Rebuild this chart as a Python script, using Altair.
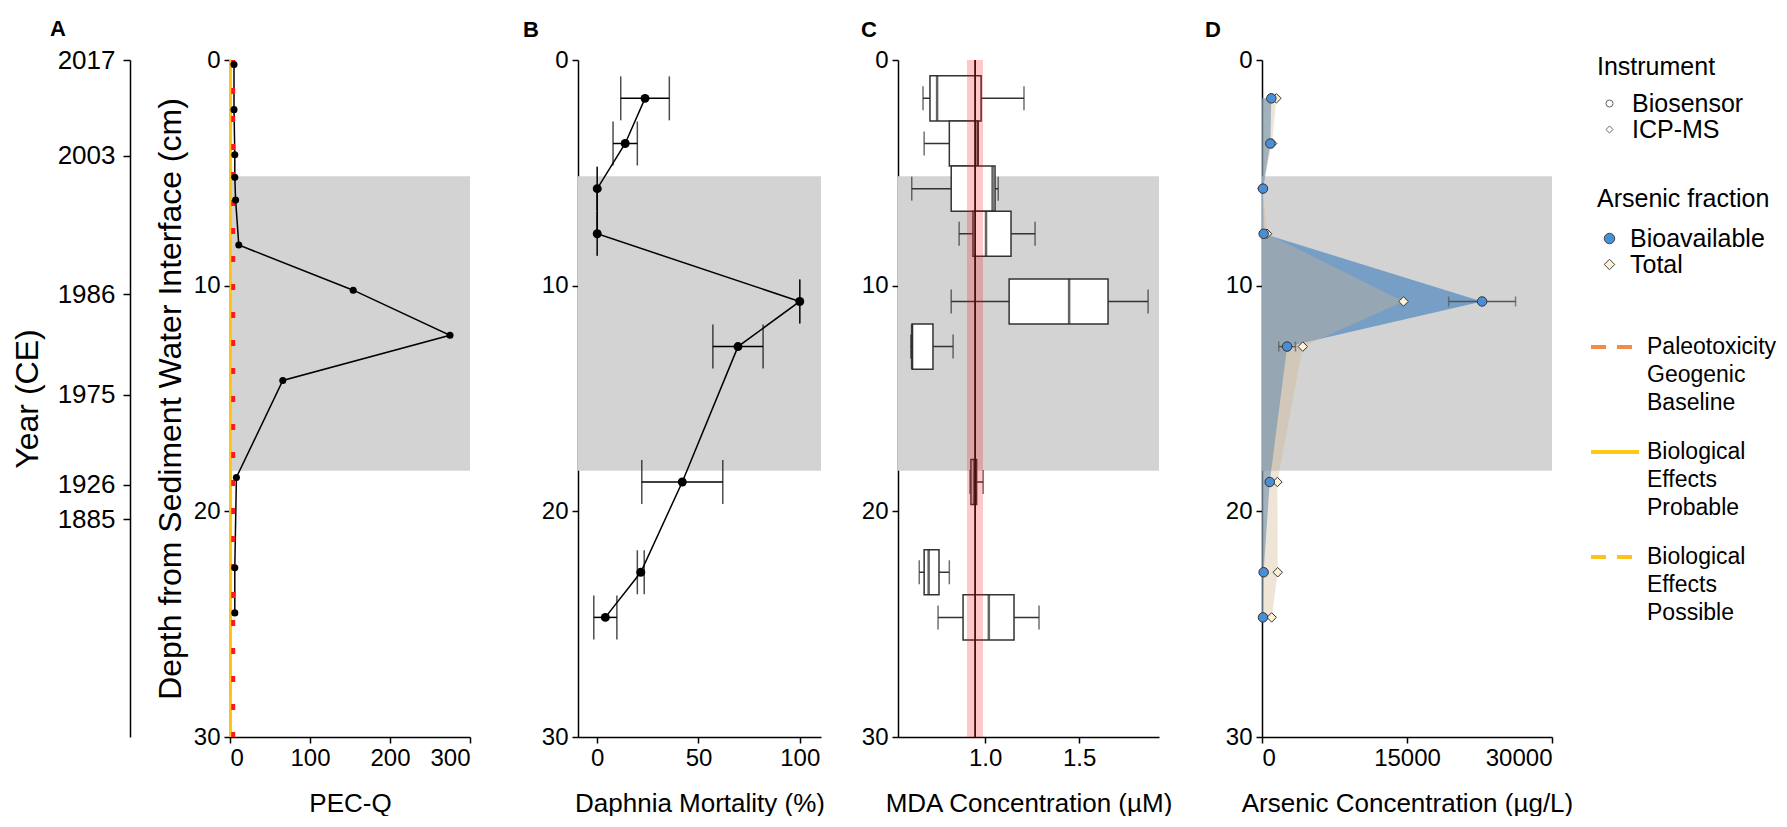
import altair as alt
import pandas as pd

FONT = "Liberation Sans"
GRAY = "#D3D3D3"

# ---------------- data ----------------
band_top = [5.15]
band_bottom = [18.2]

year_depths = [0, 4.25, 10.37, 14.84, 18.83, 20.34]
year_labels = ["2017", "2003", "1986", "1975", "1926", "1885"]

a_depth = [0.2, 2.2, 4.2, 5.2, 6.2, 8.2, 10.2, 12.2, 14.2, 18.5, 22.5, 24.5]
a_pecq = [5, 5, 6, 6, 7, 11, 154, 275, 66, 8, 6, 6]

guide_names = ["Paleotoxicity Geogenic Baseline", "Biological Effects Probable", "Biological Effects Possible"]
guide_values = [4, 1, 0.5]

b_depth = [1.7, 3.7, 5.7, 7.7, 10.7, 12.7, 18.7, 22.7, 24.7]
b_mortality = [23.6, 13.8, 0, 0, 100, 69.5, 42, 21.5, 4]
b_error = [12, 6, 0, 0, 0, 12.4, 20, 1.7, 5.7]

c_depth = [1.7, 3.7, 5.7, 7.7, 10.7, 12.7, 18.7, 22.7, 24.7]
c_low = [0.67, 0.676, 0.61, 0.862, 0.82, 0.605, 0.92, 0.65, 0.75]
c_q1 = [0.707, 0.81, 0.82, 0.936, 1.128, 0.612, 0.925, 0.676, 0.883]
c_median = [0.745, 0.960, 1.04, 1.005, 1.447, 0.612, 0.94, 0.70, 1.02]
c_q3 = [0.979, 0.963, 1.053, 1.138, 1.654, 0.723, 0.955, 0.755, 1.154]
c_high = [1.207, 0.963, 1.07, 1.266, 1.867, 0.83, 0.99, 0.81, 1.287]

mda_ref_low = [0.904]
mda_ref_mid = [0.947]
mda_ref_high = [0.989]

d_depth = [1.7, 3.7, 5.7, 7.7, 10.7, 12.7, 18.7, 22.7, 24.7]
d_bioavailable = [965, 865, 100, 170, 22770, 2600, 800, 170, 100]
d_bio_error = [0, 0, 0, 0, 3460, 865, 0, 0, 0]
d_total = [1490, 1040, 50, 520, 14640, 4220, 1590, 1630, 1000]

# ---------------- tables ----------------
band_df = pd.DataFrame({"top": band_top, "bottom": band_bottom})
a_df = pd.DataFrame({"depth": a_depth, "pecq": a_pecq})
guide_df = pd.DataFrame({"guide": guide_names, "value": guide_values})
b_df = pd.DataFrame({"depth": b_depth, "m": b_mortality, "err": b_error})
b_df["lo"] = b_df["m"] - b_df["err"]
b_df["hi"] = b_df["m"] + b_df["err"]
c_df = pd.DataFrame({"depth": c_depth, "lo": c_low, "q1": c_q1, "med": c_median,
                     "q3": c_q3, "hi": c_high})
mda_df = pd.DataFrame({"lo": mda_ref_low, "mid": mda_ref_mid, "hi": mda_ref_high})
d_df = pd.DataFrame({"depth": d_depth, "bio": d_bioavailable, "err": d_bio_error, "total": d_total})
d_df["lo"] = d_df["bio"] - d_df["err"]
d_df["hi"] = d_df["bio"] + d_df["err"]
d_long = pd.concat([
    pd.DataFrame({"depth": d_depth, "value": d_bioavailable,
                  "fraction": "Bioavailable", "instrument": "Biosensor"}),
    pd.DataFrame({"depth": d_depth, "value": d_total,
                  "fraction": "Total", "instrument": "ICP-MS"}),
], ignore_index=True)

H = 677
ys = alt.Scale(domain=[0, 30], reverse=True, nice=False, zero=False)


def depth_axis(**kw):
    return alt.Axis(values=[0, 10, 20, 30], **kw)


def panel_title(letter, dx):
    return alt.TitleParams(letter, anchor="start", frame="group", dx=dx, fontSize=22,
                           fontWeight="bold", font=FONT, color="black", offset=6)


def band(axis):
    return alt.Chart(band_df).mark_rect(color=GRAY).encode(
        y=alt.Y("top:Q", scale=ys, axis=axis), y2="bottom:Q")


# ---------------- legends ----------------
line_legend = alt.Legend(
    title=None, orient="none", legendX=1359, legendY=261, direction="vertical",
    symbolType="stroke", symbolSize=2304, symbolStrokeWidth=4, labelFontSize=23,
    labelExpr="split(datum.value, ' ')", rowPadding=11, labelOffset=6)
inst_legend = alt.Legend(
    title="Instrument", orient="none", legendX=1367, legendY=-5, direction="vertical",
    titleFontSize=25, labelFontSize=25, symbolSize=50, titlePadding=11, rowPadding=-4,
    labelOffset=10, symbolFillColor="white", symbolStrokeColor="#666", symbolStrokeWidth=1)
frac_legend = alt.Legend(
    title="Arsenic fraction", orient="none", legendX=1367, legendY=127, direction="vertical",
    titleFontSize=25, labelFontSize=25, symbolSize=110, titlePadding=14, rowPadding=-6,
    labelOffset=8, symbolStrokeColor="#444", symbolStrokeWidth=1,
    symbolType={"expr": "datum.value === 'Total' ? 'diamond' : 'circle'"})

# ---------------- panel A ----------------
xA = alt.Scale(domain=[0, 300], nice=False, zero=False)
axA_x = alt.Axis(values=[0, 100, 200, 300], title="PEC-Q")
axA_y = depth_axis(title="Depth from Sediment Water Interface (cm)", titleFontSize=32, titlePadding=6)
year_expr = " : ".join(f"datum.value == {d} ? '{y}'" for d, y in zip(year_depths, year_labels)) + " : ''"
year_axis = alt.Axis(orient="left", offset=100, values=year_depths, labelExpr=year_expr,
                     title="Year (CE)", titleFontSize=32, labelFontSize=26, tickSize=7,
                     labelPadding=8, titlePadding=13)

# guideline rules (legend keys); the geogenic baseline is drawn in panel A as red short dashes
rulesA = alt.Chart(guide_df).mark_rule().encode(
    x=alt.X("value:Q", scale=xA, axis=axA_x),
    color=alt.Color("guide:N", scale=alt.Scale(domain=guide_names, range=["#F28A4A", "#FFC815", "#FFC21A"]),
                    legend=line_legend),
    strokeDash=alt.StrokeDash("guide:N", scale=alt.Scale(domain=guide_names, range=[[15, 11], [1, 0], [15, 11]]),
                              legend=line_legend),
    strokeWidth=alt.value(2.5),
    strokeOpacity=alt.condition(f"datum.guide == '{guide_names[0]}'", alt.value(0), alt.value(1)),
)
baselineA = alt.Chart(guide_df).transform_filter(f"datum.guide == '{guide_names[0]}'").mark_rule(
    color="#FF1A1A", strokeWidth=4, strokeDash=[6, 22]).encode(x=alt.X("value:Q", scale=xA, axis=axA_x))
lineA = alt.Chart(a_df).mark_line(color="black", strokeWidth=1.5).encode(
    x=alt.X("pecq:Q", scale=xA, axis=axA_x),
    y=alt.Y("depth:Q", scale=ys, axis=axA_y),
    order="depth:Q")
pointsA = alt.Chart(a_df).mark_circle(color="black", size=50, opacity=1).encode(
    x=alt.X("pecq:Q", scale=xA, axis=axA_x),
    y=alt.Y("depth:Q", scale=ys, axis=year_axis))
panelA = alt.layer(alt.layer(band(axA_y), lineA, rulesA, baselineA), pointsA).resolve_scale(
    y="independent").properties(width=240, height=H, title=panel_title("A", -180))

# ---------------- panel B ----------------
xB = alt.Scale(domain=[-9.5, 110.5], nice=False, zero=False)
axB_x = alt.Axis(values=[0, 50, 100], title="Daphnia Mortality (%)")
axB_y = depth_axis(title=None, minExtent=107, maxExtent=107)
baseB = alt.Chart(b_df)
errB = baseB.mark_rule(color="black", strokeWidth=1.5).encode(
    x=alt.X("lo:Q", scale=xB, axis=axB_x), x2="hi:Q", y=alt.Y("depth:Q", scale=ys, axis=axB_y))
capB_lo = baseB.mark_tick(orient="vertical", size=44, thickness=1.5, color="black").encode(
    x=alt.X("lo:Q", scale=xB, axis=axB_x), y=alt.Y("depth:Q", scale=ys, axis=axB_y))
capB_hi = baseB.mark_tick(orient="vertical", size=44, thickness=1.5, color="black").encode(
    x=alt.X("hi:Q", scale=xB, axis=axB_x), y=alt.Y("depth:Q", scale=ys, axis=axB_y))
lineB = baseB.mark_line(color="black", strokeWidth=1.5).encode(
    x=alt.X("m:Q", scale=xB, axis=axB_x), y=alt.Y("depth:Q", scale=ys, axis=axB_y), order="depth:Q")
pointsB = baseB.mark_circle(color="black", size=80, opacity=1).encode(
    x=alt.X("m:Q", scale=xB, axis=axB_x), y=alt.Y("depth:Q", scale=ys, axis=axB_y))
panelB = alt.layer(band(axB_y), errB, capB_lo, capB_hi, lineB, pointsB).properties(
    width=243, height=H, title=panel_title("B", -55))

# ---------------- panel C ----------------
xC = alt.Scale(domain=[0.537, 1.925], nice=False, zero=False)
axC_x = alt.Axis(values=[1.0, 1.5], format=".1f", title="MDA Concentration (µM)")
axC_y = depth_axis(title=None, minExtent=73, maxExtent=73)
baseC = alt.Chart(c_df)
whiskC = baseC.mark_rule(color="#333", strokeWidth=1.5).encode(
    x=alt.X("lo:Q", scale=xC, axis=axC_x), x2="hi:Q", y=alt.Y("depth:Q", scale=ys, axis=axC_y))
capC_lo = baseC.mark_tick(orient="vertical", size=24, thickness=1.5, color="#333").encode(
    x=alt.X("lo:Q", scale=xC, axis=axC_x), y=alt.Y("depth:Q", scale=ys, axis=axC_y))
capC_hi = baseC.mark_tick(orient="vertical", size=24, thickness=1.5, color="#333").encode(
    x=alt.X("hi:Q", scale=xC, axis=axC_x), y=alt.Y("depth:Q", scale=ys, axis=axC_y))
boxC = baseC.transform_calculate(top="datum.depth - 1", bottom="datum.depth + 1").mark_rect(
    fill="white", stroke="#333", strokeWidth=1.5).encode(
    x=alt.X("q1:Q", scale=xC, axis=axC_x), x2="q3:Q",
    y=alt.Y("top:Q", scale=ys, axis=axC_y), y2="bottom:Q")
medC = baseC.mark_tick(orient="vertical", size=45, thickness=2.5, color="#222").encode(
    x=alt.X("med:Q", scale=xC, axis=axC_x), y=alt.Y("depth:Q", scale=ys, axis=axC_y))
refbandC = alt.Chart(mda_df).mark_rect(color="#FF0000", opacity=0.22).encode(
    x=alt.X("lo:Q", scale=xC, axis=axC_x), x2="hi:Q")
reflineC = alt.Chart(mda_df).mark_rule(color="#4A0D0D", strokeWidth=1.8).encode(
    x=alt.X("mid:Q", scale=xC, axis=axC_x))
panelC = alt.layer(band(axC_y), whiskC, capC_lo, capC_hi, boxC, medC, refbandC, reflineC).properties(
    width=261, height=H, title=panel_title("C", -37))

# ---------------- panel D ----------------
xD = alt.Scale(domain=[0, 30000], nice=False, zero=False)
axD_x = alt.Axis(values=[0, 15000, 30000], format="d", title="Arsenic Concentration (µg/L)")
axD_y = depth_axis(title=None, minExtent=89, maxExtent=89)
baseD = alt.Chart(d_df)
areaBio = baseD.mark_area(orient="horizontal", color="#3A7DBE", opacity=0.6).encode(
    y=alt.Y("depth:Q", scale=ys, axis=axD_y),
    x=alt.X("bio:Q", scale=xD, axis=axD_x), x2=alt.datum(0))
areaTot = baseD.mark_area(orient="horizontal", color="#D2B48C", opacity=0.35).encode(
    y=alt.Y("depth:Q", scale=ys, axis=axD_y),
    x=alt.X("total:Q", scale=xD, axis=axD_x), x2=alt.datum(0))
errD_base = baseD.transform_filter("datum.err > 0")
errD = errD_base.mark_rule(color="#555", strokeWidth=1.5).encode(
    x=alt.X("lo:Q", scale=xD, axis=axD_x), x2="hi:Q", y=alt.Y("depth:Q", scale=ys, axis=axD_y))
capD_lo = errD_base.mark_tick(orient="vertical", size=10, thickness=1.5, color="#555").encode(
    x=alt.X("lo:Q", scale=xD, axis=axD_x), y=alt.Y("depth:Q", scale=ys, axis=axD_y))
capD_hi = errD_base.mark_tick(orient="vertical", size=10, thickness=1.5, color="#555").encode(
    x=alt.X("hi:Q", scale=xD, axis=axD_x), y=alt.Y("depth:Q", scale=ys, axis=axD_y))
pointsD = alt.Chart(d_long).mark_point(filled=True, size=90, stroke="#333", strokeWidth=1, opacity=1).encode(
    x=alt.X("value:Q", scale=xD, axis=axD_x),
    y=alt.Y("depth:Q", scale=ys, axis=axD_y),
    shape=alt.Shape("instrument:N", scale=alt.Scale(domain=["Biosensor", "ICP-MS"], range=["circle", "diamond"]),
                    legend=inst_legend),
    fill=alt.Fill("fraction:N", scale=alt.Scale(domain=["Bioavailable", "Total"], range=["#4A8FD6", "#FDF1D6"]),
                  legend=frac_legend),
    order=alt.Order("fraction:N", sort="descending"),
)
panelD = alt.layer(band(axD_y), areaBio, areaTot, errD, capD_lo, capD_hi, pointsD).properties(
    width=290, height=H, title=panel_title("D", -57))

chart = alt.hconcat(panelA, panelB, panelC, panelD, spacing=0, bounds="full").properties(
    padding={"left": 3, "top": 10, "right": 0, "bottom": 0}
).configure(style={"guide-label": {"lineHeight": 28}}
).configure_view(stroke=None).configure_axis(
    domainColor="black", domainWidth=1.5, tickColor="black", tickWidth=1.5, tickSize=6,
    labelColor="black", titleColor="black", labelFont=FONT, titleFont=FONT,
    labelFontSize=24, titleFontSize=26, titleFontWeight="normal", grid=False,
    labelPadding=4, titlePadding=12
).configure_axisX(labelPadding=3, titlePadding=20).configure_legend(
    labelFont=FONT, titleFont=FONT, titleFontWeight="normal", labelColor="black",
    titleColor="black", padding=0
)

chart.save("out.html", embed_options={"renderer": "svg", "actions": False})
